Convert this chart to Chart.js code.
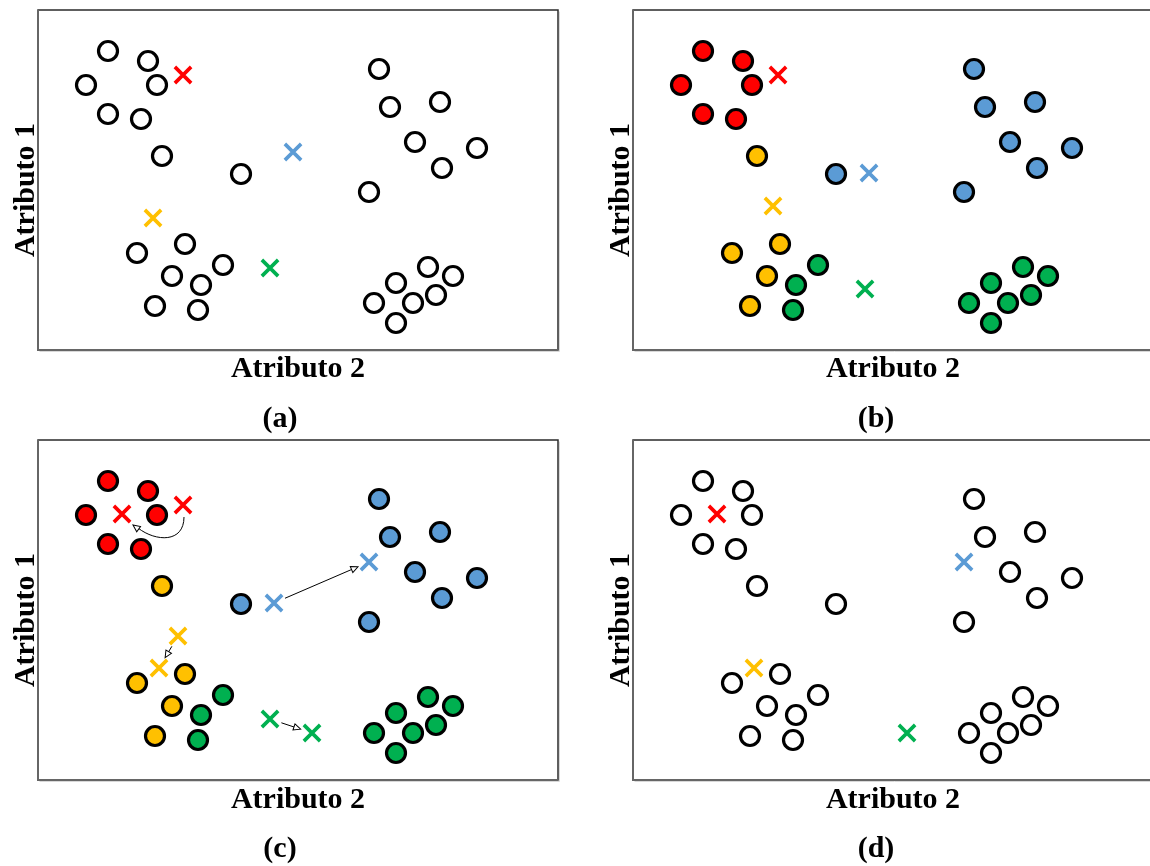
<!DOCTYPE html>
<html>
<head>
<meta charset="utf-8">
<script src="https://cdn.jsdelivr.net/npm/chart.js@4/dist/chart.umd.min.js"></script>
<style>
  html, body { margin: 0; padding: 0; background: #fff; width: 1150px; height: 866px; overflow: hidden; }
  .cv { position: absolute; }
  .lbl { position: absolute; font-family: "Liberation Serif", "Times New Roman", serif; font-weight: bold;
         font-size: 30px; line-height: 30px; color: #000; white-space: nowrap; }
  .h { transform: translateX(-50%); }
  .v { transform: translate(-50%, -50%) rotate(-90deg); }
</style>
</head>
<body>
<canvas id="pa" class="cv" width="532" height="352" style="left:32px;top:4px"></canvas>
<canvas id="pb" class="cv" width="532" height="352" style="left:627px;top:4px"></canvas>
<canvas id="pc" class="cv" width="532" height="352" style="left:32px;top:434px"></canvas>
<canvas id="pd" class="cv" width="532" height="352" style="left:627px;top:434px"></canvas>

<div class="lbl v" style="left:24px;top:190px">Atributo 1</div>
<div class="lbl v" style="left:619px;top:190px">Atributo 1</div>
<div class="lbl v" style="left:24px;top:620px">Atributo 1</div>
<div class="lbl v" style="left:619px;top:620px">Atributo 1</div>

<div class="lbl h" style="left:298px;top:352px">Atributo 2</div>
<div class="lbl h" style="left:893px;top:352px">Atributo 2</div>
<div class="lbl h" style="left:298px;top:783px">Atributo 2</div>
<div class="lbl h" style="left:893px;top:783px">Atributo 2</div>

<div class="lbl h" style="left:280px;top:402px">(a)</div>
<div class="lbl h" style="left:876px;top:402px">(b)</div>
<div class="lbl h" style="left:280px;top:832px">(c)</div>
<div class="lbl h" style="left:876px;top:832px">(d)</div>

<script>
// ---- data (Atributo 2 = x, Atributo 1 = y; y measured downward from the top of each box) ----
const pointX = [70,110,48,119,70,103,124,203,341,352,402,377,439,404,331,99,147,134,117,185,163,160,390,415,358,398,375,336,358];
const pointY = [41,51,75,75,104,109,146,164,59,97,92,132,138,158,182,243,234,266,296,255,275,300,257,266,273,285,293,293,313];
const pointCluster = ['red','red','red','red','red','red','yellow','blue','blue','blue','blue','blue','blue','blue','blue',
                      'yellow','yellow','yellow','yellow','green','green','green','green','green','green','green','green','green','green'];
const clusters = ['red','blue','yellow','green'];
const centroid0X = [145,255,115,232];
const centroid0Y = [65,142,208,258];
const centroid1X = [145,236,140,232];
const centroid1Y = [65,163,196,279];
const centroid2X = [84,331,121,274];
const centroid2Y = [74,122,228,293];
const xRange = [0, 520];
const yRange = [0, 340];

// ---- styles ----
const colors = { red: '#FF0000', blue: '#5B9BD5', yellow: '#FFC000', green: '#00B050' };

function circleDatasets(filled) {
  if (!filled) {
    return [{
      data: pointX.map((x, i) => ({ x, y: pointY[i] })),
      pointStyle: 'circle', pointRadius: 9.5, pointBorderWidth: 3.2,
      pointBackgroundColor: '#ffffff', pointBorderColor: '#000000', showLine: false
    }];
  }
  return clusters.map(c => ({
    data: pointX.map((x, i) => ({ x, y: pointY[i], c: pointCluster[i] })).filter(p => p.c === c),
    pointStyle: 'circle', pointRadius: 9.5, pointBorderWidth: 3.2,
    pointBackgroundColor: colors[c], pointBorderColor: '#000000', showLine: false
  }));
}

function centroidDatasets(cx, cy) {
  return clusters.map((c, i) => ({
    data: [{ x: cx[i], y: cy[i] }],
    pointStyle: 'crossRot', pointRadius: 11.5, pointBorderWidth: 3.6,
    pointBorderColor: colors[c], pointBackgroundColor: colors[c], showLine: false
  }));
}

const boxPlugin = {
  id: 'box',
  beforeDatasetsDraw(chart) {
    const a = chart.chartArea, ctx = chart.ctx;
    ctx.save();
    ctx.fillStyle = '#ffffff';
    ctx.fillRect(a.left, a.top, a.right - a.left, a.bottom - a.top);
    ctx.strokeStyle = '#d8d8d8';
    ctx.lineWidth = 1;
    ctx.beginPath();
    ctx.moveTo(a.left + 1.5, a.bottom + 1.5); ctx.lineTo(a.right + 1.5, a.bottom + 1.5); ctx.lineTo(a.right + 1.5, a.top + 1.5);
    ctx.stroke();
    ctx.strokeStyle = '#2a2a2a';
    ctx.lineWidth = 1.5;
    ctx.strokeRect(a.left, a.top, a.right - a.left, a.bottom - a.top);
    ctx.strokeStyle = '#666666';
    ctx.lineWidth = 2;
    ctx.beginPath();
    ctx.moveTo(a.left, a.top); ctx.lineTo(a.left, a.bottom); ctx.lineTo(a.right, a.bottom);
    ctx.stroke();
    ctx.restore();
  }
};

function arrowHead(ctx, x, y, ang) {
  const L = 7, W = 3.2;
  ctx.save();
  ctx.translate(x, y); ctx.rotate(ang);
  ctx.beginPath();
  ctx.moveTo(0, 0); ctx.lineTo(-L, -W); ctx.lineTo(-L, W); ctx.closePath();
  ctx.fillStyle = '#ffffff'; ctx.fill();
  ctx.lineWidth = 1; ctx.strokeStyle = '#000000'; ctx.stroke();
  ctx.restore();
}

const arrowPlugin = {
  id: 'arrows',
  afterDatasetsDraw(chart) {
    const ctx = chart.ctx, sx = chart.scales.x, sy = chart.scales.y;
    ctx.save();
    ctx.strokeStyle = '#000000'; ctx.lineWidth = 1;
    clusters.forEach((c, i) => {
      const x0 = sx.getPixelForValue(centroid1X[i]), y0 = sy.getPixelForValue(centroid1Y[i]);
      const x1 = sx.getPixelForValue(centroid2X[i]), y1 = sy.getPixelForValue(centroid2Y[i]);
      if (c === 'red') {
        const p0 = [x0 + 1, y0 + 12], c1 = [x0 + 1, y0 + 38], c2 = [x1 + 34, y1 + 28], p3 = [x1 + 11, y1 + 11];
        ctx.beginPath();
        ctx.moveTo(p0[0], p0[1]);
        ctx.bezierCurveTo(c1[0], c1[1], c2[0], c2[1], p3[0] + 5, p3[1] + 3);
        ctx.stroke();
        arrowHead(ctx, p3[0], p3[1], Math.atan2(p3[1] - c2[1], p3[0] - c2[0]));
      } else {
        const dx = x1 - x0, dy = y1 - y0, len = Math.hypot(dx, dy), ux = dx / len, uy = dy / len;
        const g0 = 12, g1 = 12;
        const sxp = x0 + ux * g0, syp = y0 + uy * g0, exp = x1 - ux * g1, eyp = y1 - uy * g1;
        ctx.beginPath();
        ctx.moveTo(sxp, syp); ctx.lineTo(exp - ux * 6, eyp - uy * 6);
        ctx.stroke();
        arrowHead(ctx, exp, eyp, Math.atan2(uy, ux));
      }
    });
    ctx.restore();
  }
};

function makeChart(id, datasets, plugins) {
  new Chart(document.getElementById(id), {
    type: 'scatter',
    data: { datasets },
    options: {
      responsive: false, animation: false, events: [],
      layout: { padding: 6, autoPadding: false },
      plugins: { legend: { display: false }, tooltip: { enabled: false } },
      scales: {
        x: { type: 'linear', display: false, min: xRange[0], max: xRange[1] },
        y: { type: 'linear', display: false, min: yRange[0], max: yRange[1], reverse: true }
      }
    },
    plugins: [boxPlugin].concat(plugins || [])
  });
}

makeChart('pa', circleDatasets(false).concat(centroidDatasets(centroid0X, centroid0Y)));
makeChart('pb', circleDatasets(true).concat(centroidDatasets(centroid1X, centroid1Y)));
makeChart('pc', circleDatasets(true).concat(centroidDatasets(centroid1X, centroid1Y), centroidDatasets(centroid2X, centroid2Y)), [arrowPlugin]);
makeChart('pd', circleDatasets(false).concat(centroidDatasets(centroid2X, centroid2Y)));
</script>
</body>
</html>
